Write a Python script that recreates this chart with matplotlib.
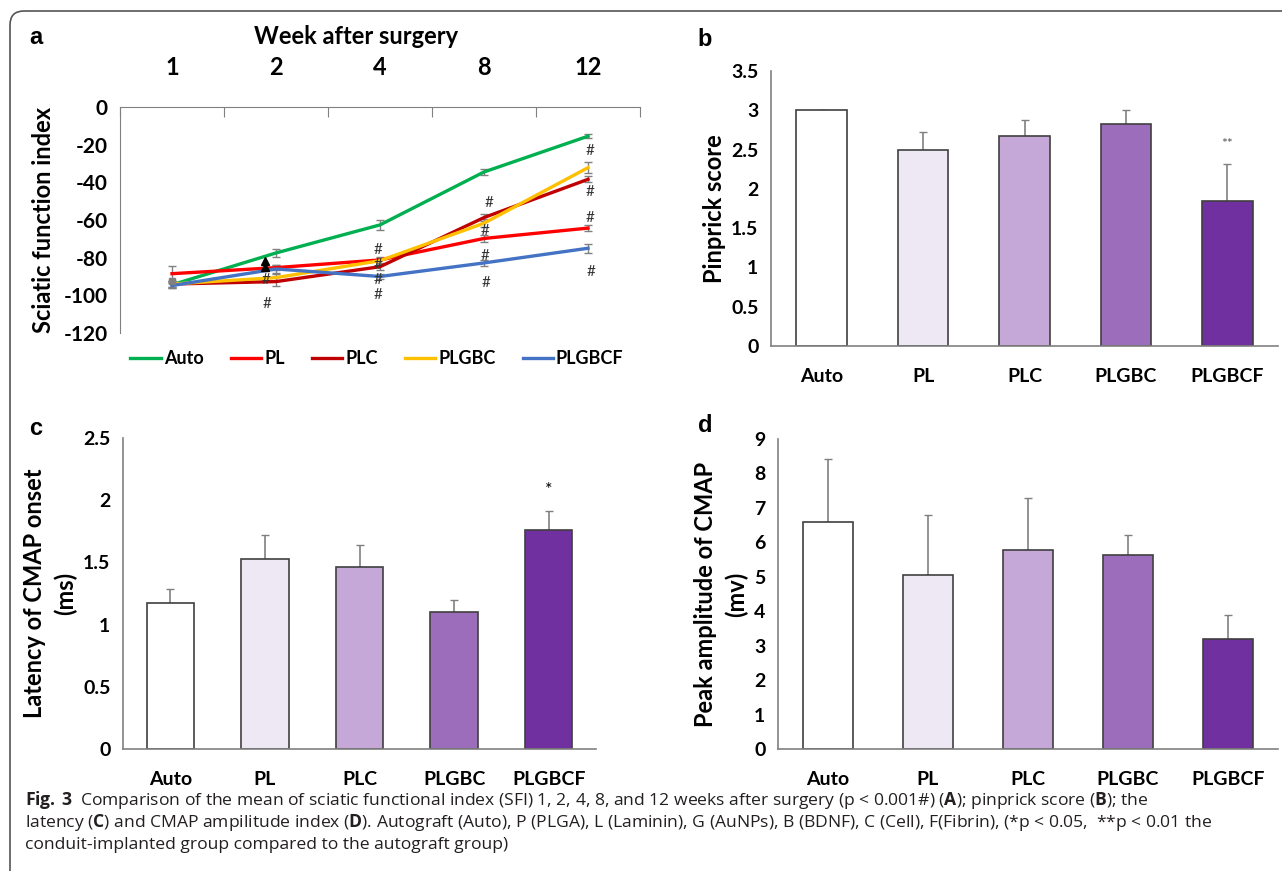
import matplotlib
matplotlib.use("Agg")
import matplotlib.pyplot as plt
from matplotlib import font_manager
from matplotlib.patches import FancyBboxPatch

# ---- data ----
weeks = ["1", "2", "4", "8", "12"]
groups = ["Auto", "PL", "PLC", "PLGBC", "PLGBCF"]

sfi_auto = [-94.4, -77.5, -62.6, -34.5, -15.5]
sfi_pl = [-88.5, -85.3, -81.2, -69.8, -64.3]
sfi_plc = [-94.0, -92.7, -84.8, -58.7, -38.4]
sfi_plgbc = [-94.0, -90.6, -81.6, -61.7, -32.2]
sfi_plgbcf = [-94.8, -86.0, -90.0, -82.8, -75.0]

sfi_err_auto = [1.5, 2.0, 2.5, 1.5, 1.0]
sfi_err_pl = [4.0, 1.5, 1.5, 2.0, 1.5]
sfi_err_plc = [1.5, 2.5, 1.5, 2.0, 1.5]
sfi_err_plgbc = [1.5, 2.0, 1.5, 2.0, 3.0]
sfi_err_plgbcf = [1.5, 2.0, 1.5, 1.5, 2.5]

# "#" significance marks (category index, value)
hash_x = [0.9, 0.91, 1.98, 1.98, 1.98, 1.98, 3.05, 3.01, 3.01, 3.02, 4.02, 4.02, 4.02, 4.03]
hash_y = [-91.8, -104.5, -75.8, -83.8, -91.6, -100.0, -51.0, -66.0, -79.0, -93.4,
          -23.4, -45.0, -58.7, -87.8]
tri_x = [0.89, 0.89]
tri_y = [-81.6, -85.1]

pinprick = [3.0, 2.5, 2.67, 2.83, 1.84]
pinprick_err = [0.0, 0.22, 0.21, 0.18, 0.48]
latency = [1.17, 1.53, 1.46, 1.10, 1.76]
latency_err = [0.12, 0.19, 0.18, 0.10, 0.15]
amplitude = [6.6, 5.05, 5.78, 5.64, 3.2]
amplitude_err = [1.82, 1.75, 1.52, 0.57, 0.69]

line_colors = ["#00B050", "#FF0000", "#C00000", "#FFC000", "#4472C4"]
bar_colors = ["#FFFFFF", "#EEE8F5", "#C5A8D7", "#9B6DBA", "#7030A0"]

W, H = 1282, 871

names = {f.name for f in font_manager.fontManager.ttflist}
cap_font = "Liberation Sans Narrow" if "Liberation Sans Narrow" in names else "Open Sans"
chart_font = "Lato" if "Lato" in names else "DejaVu Sans"

plt.rcParams["font.family"] = [chart_font, "DejaVu Sans"]
plt.rcParams["axes.unicode_minus"] = False
plt.rcParams["mathtext.fontset"] = "custom"
plt.rcParams["mathtext.rm"] = cap_font
plt.rcParams["mathtext.bf"] = cap_font + ":bold"

fig = plt.figure(figsize=(W / 100, H / 100), dpi=100)

# background axes in pixel units for border, panel letters and caption
bg = fig.add_axes([0, 0, 1, 1], zorder=-5)
bg.set_xlim(0, W)
bg.set_ylim(H, 0)
bg.axis("off")
bg.add_patch(FancyBboxPatch((10, 11), 1320, 900, boxstyle="round,pad=0,rounding_size=14",
                            fc="none", ec="#555555", lw=1.2, clip_on=False))


def px_axes(l, t, r, b):
    return fig.add_axes([l / W, 1 - b / H, (r - l) / W, (b - t) / H])


# ---- panel a: sciatic function index ----
ax = px_axes(120, 107, 640, 333)
x = range(len(weeks))
series = [sfi_auto, sfi_pl, sfi_plc, sfi_plgbc, sfi_plgbcf]
errs = [sfi_err_auto, sfi_err_pl, sfi_err_plc, sfi_err_plgbc, sfi_err_plgbcf]
for name, vals, err, col in zip(groups, series, errs, line_colors):
    ax.errorbar(x, vals, yerr=err, fmt="none", ecolor="#808080", elinewidth=1, capsize=3, zorder=2)
    ax.plot(x, vals, color=col, lw=2.4, label=name, zorder=3)
ax.plot([0], [-92.2], "s", color="#808080", ms=4, zorder=4)
ax.plot(tri_x, tri_y, "^", color="black", ms=6, zorder=5)
for hx, hy in zip(hash_x, hash_y):
    ax.text(hx, hy, "#", ha="center", va="center", fontsize=11, color="#333333", zorder=6)

ax.set_xlim(-0.5, 4.5)
ax.set_ylim(-120, 0)
ax.set_yticks(range(-120, 1, 20))
ax.xaxis.tick_top()
ax.set_xticks([i + 0.5 for i in range(-1, 5)])
ax.set_xticklabels([])
ax.set_xticks(list(x), minor=True)
ax.set_xticklabels(weeks, minor=True, fontsize=17, fontweight="bold")
ax.tick_params(axis="x", which="major", direction="in", length=7, color="#808080")
ax.tick_params(axis="x", which="minor", length=0, pad=20)
ax.tick_params(axis="y", length=0, pad=9, labelsize=15)
for lab in ax.get_yticklabels():
    lab.set_fontweight("bold")
for s in ["right", "bottom"]:
    ax.spines[s].set_visible(False)
for s in ["top", "left"]:
    ax.spines[s].set_color("#808080")
ax.set_ylabel("Sciatic function index", fontsize=17, fontweight="bold", labelpad=6)
ax.legend(loc="center", bbox_to_anchor=(377 / W, 1 - 359 / H), bbox_transform=fig.transFigure,
          ncol=5, frameon=False, handlelength=1.7, handletextpad=0.15, columnspacing=1.5,
          prop={"size": 13, "weight": "bold"})
bg.text(356, 37, "Week after surgery", ha="center", va="center", fontsize=17, fontweight="bold")


def bar_panel(ax, vals, err, ymax, step, ylabel, lsp=1.0):
    pos = range(len(groups))
    ax.bar(pos, vals, width=0.5, color=bar_colors, edgecolor="#404040", lw=1.2, zorder=2)
    ax.errorbar(pos, vals, yerr=[[0] * len(err), err], fmt="none", ecolor="#808080",
                elinewidth=1.2, capsize=3, zorder=1)
    ax.set_xlim(-0.5, 4.5)
    ax.set_ylim(0, ymax)
    n = int(round(ymax / step))
    ticks = [i * step for i in range(n + 1)]
    ax.set_yticks(ticks)
    ax.set_yticklabels(["%g" % t for t in ticks], fontweight="bold", fontsize=14)
    ax.set_xticks(list(pos))
    ax.set_xticklabels(groups, fontweight="bold", fontsize=14)
    ax.tick_params(axis="x", length=0, pad=16)
    ax.tick_params(axis="y", length=0, pad=9)
    for s in ["top", "right"]:
        ax.spines[s].set_visible(False)
    for s in ["left", "bottom"]:
        ax.spines[s].set_color("#808080")
        ax.spines[s].set_linewidth(1.2)
    ax.set_ylabel(ylabel, fontsize=17, fontweight="bold", linespacing=lsp)


# ---- panel b: pinprick ----
axb = px_axes(771, 71, 1278, 346)
bar_panel(axb, pinprick, pinprick_err, 3.5, 0.5, "Pinprick score")
axb.text(4, 2.575, "**", ha="center", va="center", fontsize=10, color="#555555")

# ---- panel c: latency ----
axc = px_axes(123, 438, 596, 749)
bar_panel(axc, latency, latency_err, 2.5, 0.5, "Latency of CMAP onset\n(ms)", lsp=1.4)
axc.text(4, 2.08, "*", ha="center", va="center", fontsize=13)

# ---- panel d: amplitude ----
axd = px_axes(778, 439, 1278, 749)
bar_panel(axd, amplitude, amplitude_err, 9, 1, "Peak amplitude of CMAP\n(mv)", lsp=1.4)

# panel letters
for lx, ly, letter in [(36, 38, "a"), (705, 40, "b"), (36, 428, "c"), (705, 425, "d")]:
    bg.text(lx, ly, letter, ha="center", va="center", fontsize=17, fontweight="bold",
            family="Liberation Sans")

# caption
cap = [
    r"$\mathbf{Fig.\,3}$  Comparison of the mean of sciatic functional index (SFI) 1, 2, 4, 8, and 12 weeks "
    r"after surgery (p < 0.001#) ($\mathbf{A}$); pinprick score ($\mathbf{B}$); the",
    r"latency ($\mathbf{C}$) and CMAP ampilitude index ($\mathbf{D}$). Autograft (Auto), P (PLGA), "
    r"L (Laminin), G (AuNPs), B (BDNF), C (Cell), F(Fibrin), (*p < 0.05,  **p < 0.01 the",
    "conduit-implanted group compared to the autograft group)",
]
for i, line in enumerate(cap):
    bg.text(25, 800 + 22.5 * i, line, ha="left", va="center", fontsize=12.6, family=cap_font,
            color="#231F20")

fig.savefig("out.png", dpi=100)
